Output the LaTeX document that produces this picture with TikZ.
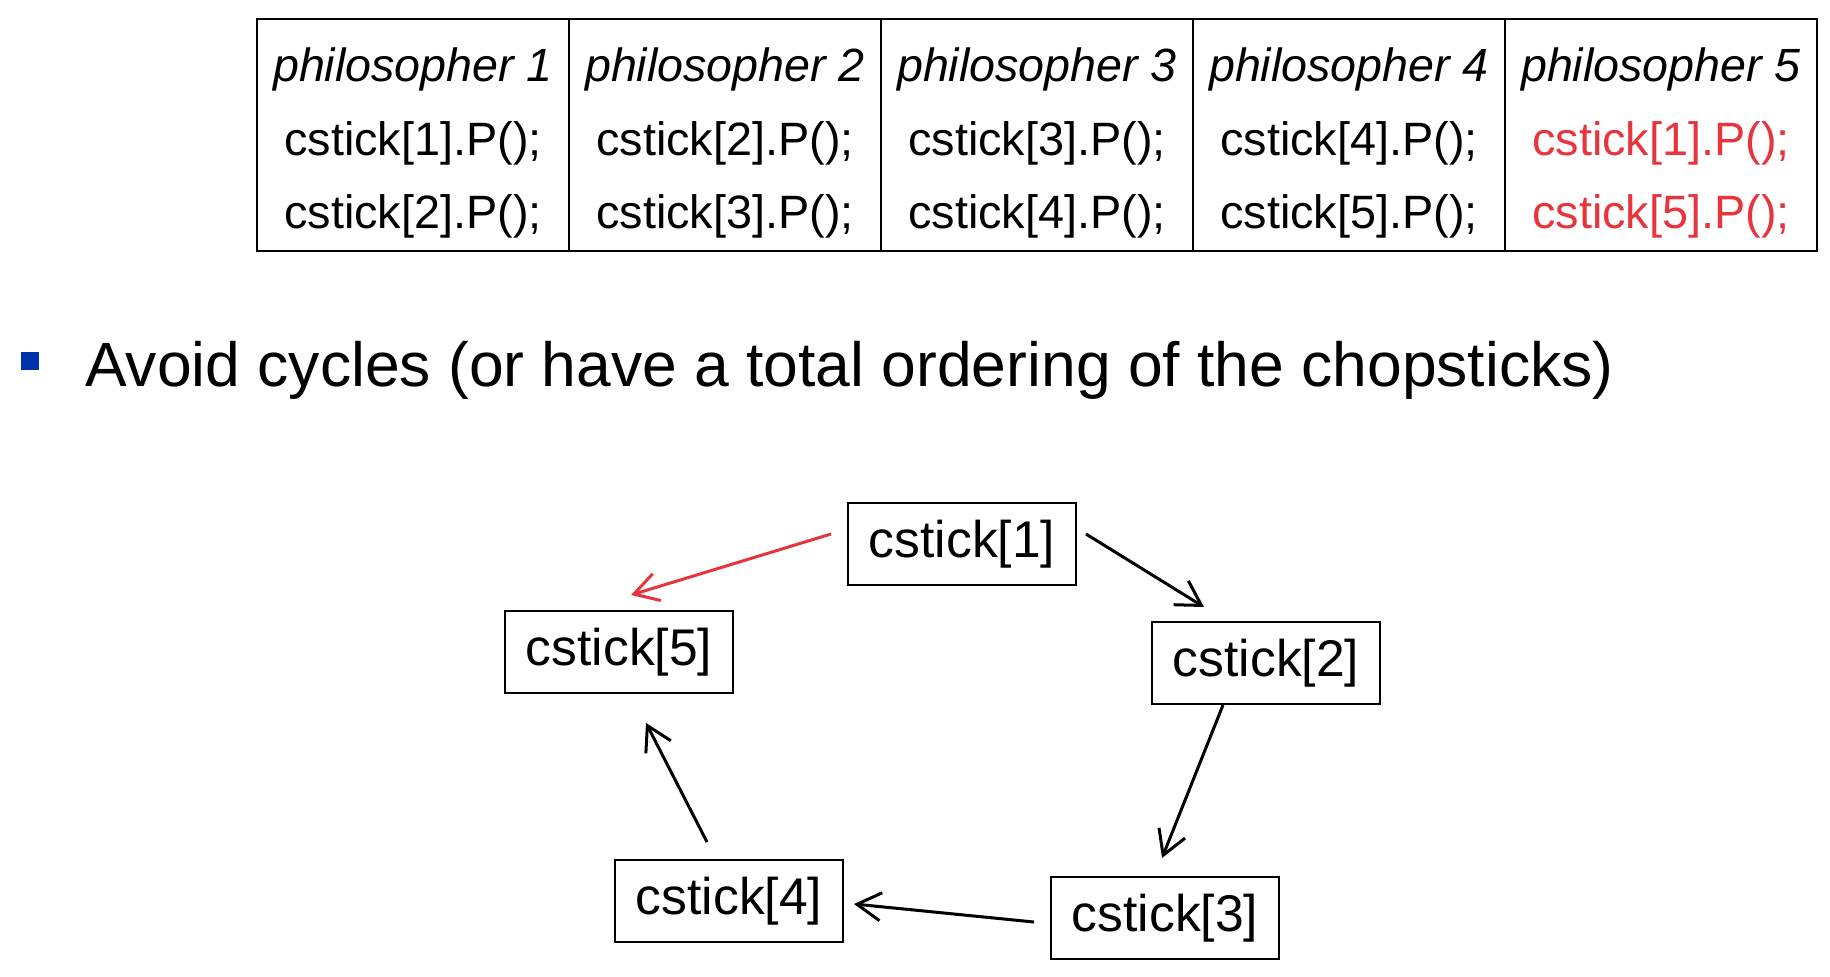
\documentclass[tikz,border=0pt]{standalone}
\usepackage{fontspec}
\setmainfont{Liberation Sans}
\usetikzlibrary{arrows.meta,calc}
\definecolor{myred}{RGB}{232,52,60}
\definecolor{myblue}{RGB}{0,51,170}
\begin{document}
\begin{tikzpicture}[x=0.5pt,y=-0.5pt,
  colbox/.style={draw, line width=0.9pt, minimum width=156pt, minimum height=116pt, inner sep=0pt},
  headtxt/.style={anchor=base, inner sep=0pt, font=\fontsize{23.3}{28}\selectfont\itshape},
  codetxt/.style={anchor=base, inner sep=0pt, font=\fontsize{23.4}{28}\selectfont},
  stickbox/.style={draw, line width=1pt, minimum width=114pt, minimum height=41pt, inner sep=0pt, font=\fontsize{25.8}{30}\selectfont},
  conn/.style={line width=1.5pt, -{Straight Barb[length=12pt,width=14pt,line width=1.5pt]}},
  redconn/.style={conn, draw=myred}
]
\useasboundingbox (0,0) rectangle (1830,976);

% table
\foreach \i/\x in {1/413,2/725,3/1037,4/1349,5/1661}{
  \node[colbox] (col\i) at (\x,135) {};
  \node[headtxt] (head\i) at (\x,81) {philosopher \i};
}
\node[codetxt] (a1) at (413,155) {cstick[1].P();};
\node[codetxt] (b1) at (413,228) {cstick[2].P();};
\node[codetxt] (a2) at (725,155) {cstick[2].P();};
\node[codetxt] (b2) at (725,228) {cstick[3].P();};
\node[codetxt] (a3) at (1037,155) {cstick[3].P();};
\node[codetxt] (b3) at (1037,228) {cstick[4].P();};
\node[codetxt] (a4) at (1349,155) {cstick[4].P();};
\node[codetxt] (b4) at (1349,228) {cstick[5].P();};
\node[codetxt, text=myred] (a5) at (1661,155) {cstick[1].P();};
\node[codetxt, text=myred] (b5) at (1661,228) {cstick[5].P();};

% bullet
\node[fill=myblue, minimum width=9pt, minimum height=9pt, inner sep=0pt] (bullet) at (30,361) {};
\node[anchor=base west, inner sep=0pt, font=\fontsize{31.2}{36}\selectfont] (avoid) at (85,386) {Avoid cycles (or have a total ordering of the chopsticks)};

% graph
\node[stickbox] (c1) at (962,544) {cstick[1]};
\node[stickbox] (c5) at (619,652) {cstick[5]};
\node[stickbox] (c2) at (1266,663) {cstick[2]};
\node[stickbox] (c4) at (729,901) {cstick[4]};
\node[stickbox] (c3) at (1165,918) {cstick[3]};

\draw[redconn] ($(c1.west)+(-16,-10)$) -- ($(c5.north)+(12,-15)$);
\draw[conn] ($(c1.east)+(9,-10)$) -- ($(c2.north west)+(53,-14)$);
\draw[conn] ($(c2.south)+(-43,0)$) -- ($(c3.north)+(-3,-18)$);
\draw[conn] ($(c3.west)+(-16,4)$) -- ($(c4.east)+(10,3)$);
\draw[conn] ($(c4.north)+(-22,-17)$) -- ($(c5.south)+(27,29)$);
\end{tikzpicture}
\end{document}
